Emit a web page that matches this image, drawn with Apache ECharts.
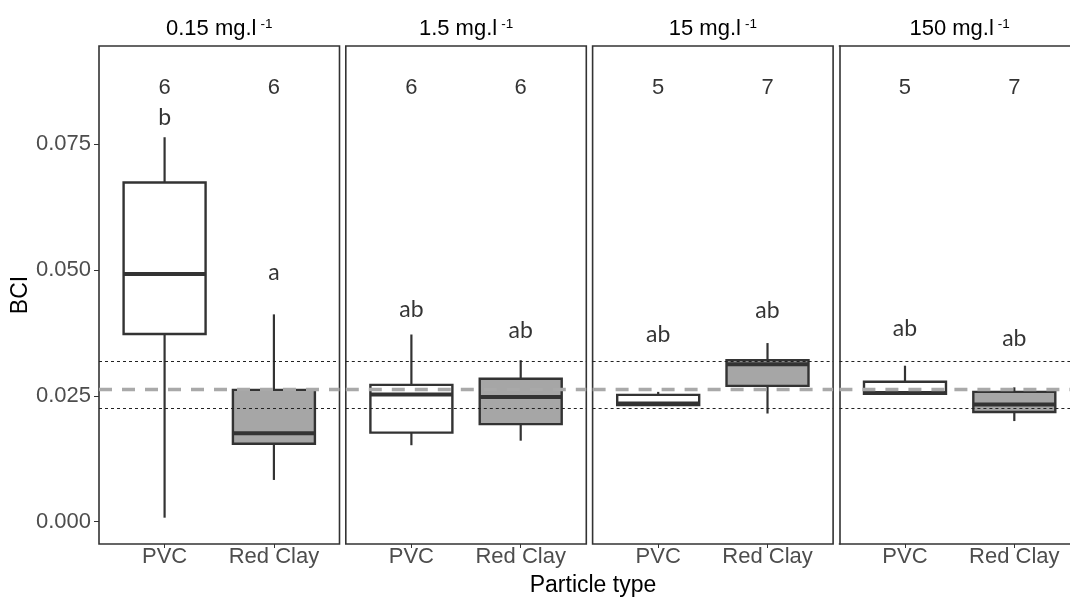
<!DOCTYPE html>
<html>
<head>
<meta charset="utf-8">
<title>BCI by particle type and concentration</title>
<script src="https://cdn.jsdelivr.net/npm/echarts@6/dist/echarts.min.js"></script>
<style>
  html, body { margin: 0; padding: 0; background: #ffffff; }
  #chart { width: 1070px; height: 598px; }
</style>
</head>
<body>
<div id="chart"></div>
<script>
// Concentration facets and particle categories
const concentrations = ['0.15', '1.5', '15', '150'];
const particleTypes = ['PVC', 'Red Clay'];

// Box statistics per concentration: [lower whisker, Q1, median, Q3, upper whisker]
const pvcStats = [
  [0.0008, 0.0373, 0.0492, 0.0674, 0.0764],
  [0.0152, 0.0177, 0.0253, 0.0272, 0.0372],
  [0.0232, 0.0232, 0.0235, 0.0252, 0.0258],
  [0.0254, 0.0254, 0.0256, 0.0278, 0.0310]
];
const clayStats = [
  [0.0083, 0.0155, 0.0176, 0.0262, 0.0412],
  [0.0161, 0.0194, 0.0248, 0.0284, 0.0321],
  [0.0215, 0.0270, 0.0313, 0.0321, 0.0355],
  [0.0200, 0.0218, 0.0233, 0.0258, 0.0267]
];

// Sample sizes shown above each box
const pvcCounts = [6, 6, 5, 5];
const clayCounts = [6, 6, 7, 7];
const countLabelY = 0.0862;

// Significance letters and their heights
const pvcLetters = ['b', 'ab', 'ab', 'ab'];
const clayLetters = ['a', 'ab', 'ab', 'ab'];
const pvcLetterY = [0.0804, 0.0422, 0.0371, 0.0383];
const clayLetterY = [0.0496, 0.0379, 0.0420, 0.0363];

// Reference band: mean and limits
const refMean = 0.0263;
const refLow = 0.02246;
const refHigh = 0.0319;

// Y-axis tick values
const yTicks = [0, 0.025, 0.05, 0.075];

const Y_MIN = -0.00443, Y_MAX = 0.09453;
const X_MIN = 0.4, X_MAX = 2.6;
const INK = '#333333';
const CLAY_FILL = '#a6a6a6';
const SANS = '"Liberation Sans", Arial, sans-serif';
const LETTER_FONT = 'Lato, "Open Sans", sans-serif';

const CHART_W = 1070;
const panelLeft = 99, panelTop = 46, panelW = 240.5, panelH = 498, panelStep = 246.8;

const chart = echarts.init(document.getElementById('chart'), null, { renderer: 'canvas' });

function renderBox(params, api) {
  const x = api.value(0);
  const lo = api.value(1), q1 = api.value(2), med = api.value(3), q3 = api.value(4), hi = api.value(5);
  const isClay = api.value(6) === 1;
  const half = 0.375;
  const tl = api.coord([x - half, q3]);
  const br = api.coord([x + half, q1]);
  const pHi = api.coord([x, hi]);
  const pLo = api.coord([x, lo]);
  const mL = api.coord([x - half, med]);
  const mR = api.coord([x + half, med]);
  const lineStyle = { stroke: INK, lineWidth: 2.2 };
  return {
    type: 'group',
    children: [
      { type: 'line', z2: 1, shape: { x1: pHi[0], y1: pHi[1], x2: pHi[0], y2: tl[1] }, style: lineStyle },
      { type: 'line', z2: 1, shape: { x1: pLo[0], y1: br[1], x2: pLo[0], y2: pLo[1] }, style: lineStyle },
      { type: 'rect', z2: 2, shape: { x: tl[0], y: tl[1], width: br[0] - tl[0], height: br[1] - tl[1] },
        style: { fill: isClay ? CLAY_FILL : '#ffffff', stroke: INK, lineWidth: 2.4 } },
      { type: 'line', z2: 3, shape: { x1: mL[0], y1: mL[1], x2: mR[0], y2: mR[1] },
        style: { stroke: INK, lineWidth: 4 } }
    ]
  };
}

const grids = [], xAxes = [], yAxes = [], series = [];
const frameLine = { show: true, onZero: false, lineStyle: { color: INK, width: 1.6 } };

concentrations.forEach((c, i) => {
  const left = panelLeft + i * panelStep;
  // the last panel runs past the right edge of the canvas, so it is cropped there
  const cropped = left + panelW > CHART_W;
  const width = cropped ? CHART_W - left : panelW;
  const xMax = X_MIN + (X_MAX - X_MIN) * width / panelW;
  const titleShift = cropped ? (panelW - width) : 0;

  grids.push({
    left: left, top: panelTop, width: width, height: panelH,
    show: !cropped, borderColor: INK, borderWidth: 1.6, backgroundColor: 'transparent'
  });

  // bottom axis with particle type labels
  xAxes.push({
    type: 'value', gridIndex: i, min: X_MIN, max: xMax, position: 'bottom',
    axisLine: cropped ? frameLine : { show: false, onZero: false }, splitLine: { show: false },
    axisTick: { show: true, customValues: [1, 2], length: 4, lineStyle: { color: INK, width: 1 } },
    axisLabel: {
      customValues: [1, 2], margin: 2, color: '#4d4d4d', fontSize: 22, fontFamily: SANS,
      formatter: v => particleTypes[Math.round(v) - 1]
    }
  });

  // top axis carrying the facet strip title
  xAxes.push({
    type: 'value', gridIndex: i, min: X_MIN, max: xMax, position: 'top',
    axisLine: cropped ? frameLine : { show: false, onZero: false },
    axisTick: { show: false }, axisLabel: { show: false }, splitLine: { show: false },
    name: '{n|' + c + ' mg.l}{s|-1}', nameLocation: 'middle', nameGap: 5,
    nameTextStyle: {
      padding: [0, 0, 0, titleShift],
      rich: {
        n: { fontSize: 22, fontFamily: SANS, color: '#000000', lineHeight: 24 },
        s: { fontSize: 13.5, fontFamily: SANS, color: '#000000', lineHeight: 24, verticalAlign: 'top', padding: [0, 0, 10, 4] }
      }
    }
  });

  if (i === 0) {
    yAxes.push({
      type: 'value', gridIndex: i, min: Y_MIN, max: Y_MAX,
      axisLine: { show: false, onZero: false }, splitLine: { show: false },
      axisTick: { show: true, customValues: yTicks, length: 5, lineStyle: { color: INK, width: 1 } },
      axisLabel: {
        customValues: yTicks, margin: 8, color: '#4d4d4d', fontSize: 22, fontFamily: SANS,
        formatter: v => v.toFixed(3)
      },
      name: 'BCI', nameLocation: 'middle', nameGap: 63, nameRotate: 90,
      nameTextStyle: { fontSize: 23, fontFamily: SANS, color: '#000000' }
    });
  } else {
    yAxes.push({
      type: 'value', gridIndex: i, min: Y_MIN, max: Y_MAX, show: cropped,
      axisLine: cropped ? frameLine : { show: false, onZero: false },
      axisTick: { show: false }, axisLabel: { show: false }, splitLine: { show: false }
    });
  }

  const xIdx = i * 2;

  series.push({
    type: 'custom', name: 'box ' + c, xAxisIndex: xIdx, yAxisIndex: i, z: 2,
    renderItem: renderBox,
    encode: { x: 0, y: [1, 2, 3, 4, 5] },
    data: [[1].concat(pvcStats[i], [0]), [2].concat(clayStats[i], [1])]
  });

  // reference band lines drawn over the boxes
  series.push({
    type: 'line', xAxisIndex: xIdx, yAxisIndex: i, z: 5, data: [], silent: true,
    markLine: {
      silent: true, symbol: ['none', 'none'], label: { show: false }, animation: false, precision: 6,
      data: [
        { yAxis: refHigh, lineStyle: { color: '#222222', width: 1, type: [3, 3] } },
        { yAxis: refLow, lineStyle: { color: '#222222', width: 1, type: [3, 3] } },
        { yAxis: refMean, lineStyle: { color: '#a9a9a9', width: 3.4, type: [13, 10] } }
      ]
    }
  });

  // sample sizes
  series.push({
    type: 'scatter', xAxisIndex: xIdx, yAxisIndex: i, z: 6, symbolSize: 0, silent: true,
    data: [[1, countLabelY, pvcCounts[i]], [2, countLabelY, clayCounts[i]]],
    label: {
      show: true, position: 'inside', color: '#000000', fontSize: 22, fontFamily: SANS,
      formatter: p => String(p.value[2])
    }
  });

  // significance letters
  series.push({
    type: 'scatter', xAxisIndex: xIdx, yAxisIndex: i, z: 6, symbolSize: 0, silent: true,
    data: [[1, pvcLetterY[i], pvcLetters[i]], [2, clayLetterY[i], clayLetters[i]]],
    label: {
      show: true, position: 'inside', color: '#000000', fontSize: 23, fontFamily: LETTER_FONT,
      formatter: p => p.value[2]
    }
  });
});

chart.setOption({
  animation: false,
  backgroundColor: '#ffffff',
  grid: grids,
  xAxis: xAxes,
  yAxis: yAxes,
  series: series,
  graphic: [{
    type: 'text', x: 593, y: 586,
    style: { text: 'Particle type', fontSize: 23, fontFamily: SANS, fill: '#000000', align: 'center', verticalAlign: 'middle' }
  }]
});
</script>
</body>
</html>
